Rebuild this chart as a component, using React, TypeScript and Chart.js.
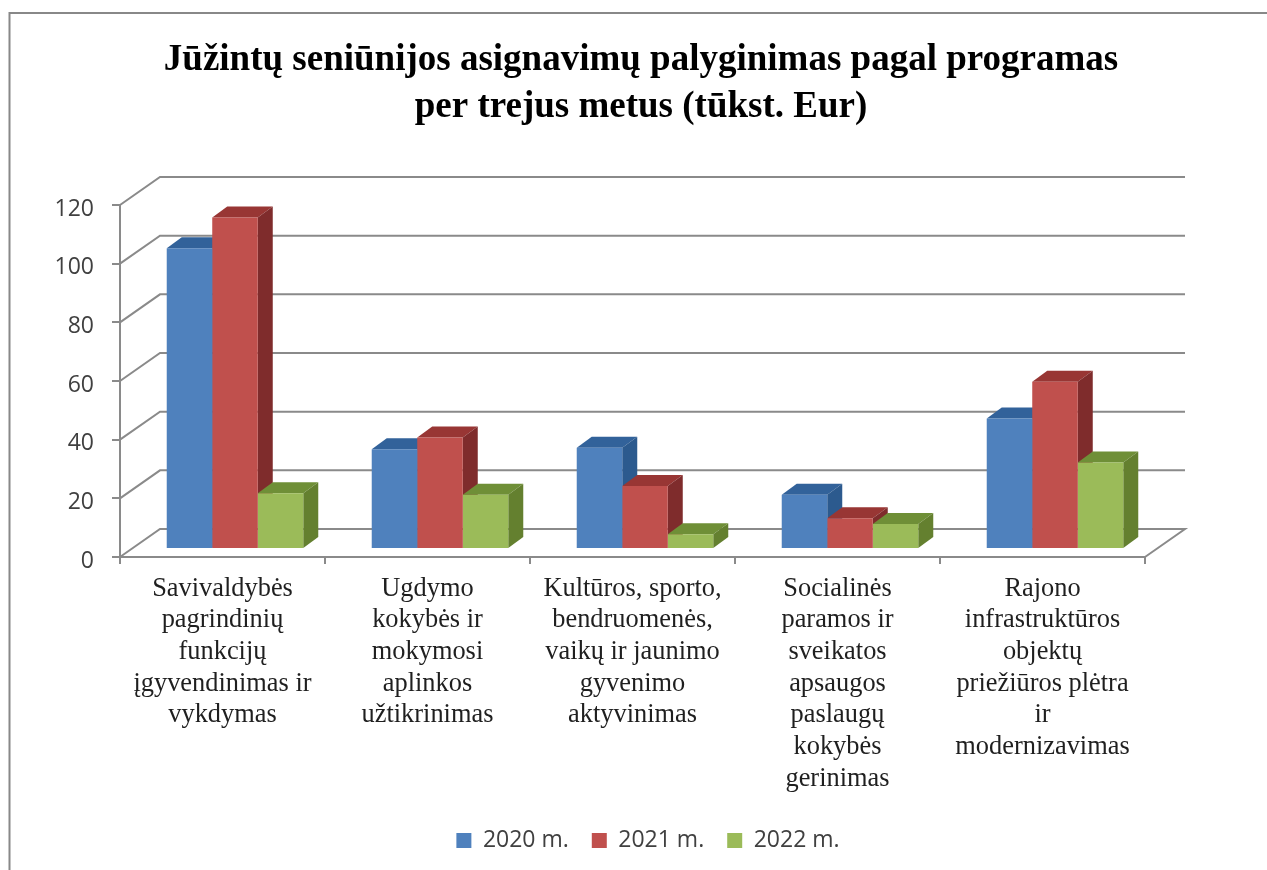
import React, { useEffect, useRef } from "react";
import { Chart, registerables } from "chart.js";

Chart.register(...registerables);

const titleLines = [
  "Jūžintų seniūnijos asignavimų palyginimas pagal programas",
  "per trejus metus (tūkst. Eur)",
];
const categories = [
  ["Savivaldybės", "pagrindinių", "funkcijų", "įgyvendinimas ir", "vykdymas"],
  ["Ugdymo", "kokybės ir", "mokymosi", "aplinkos", "užtikrinimas"],
  ["Kultūros, sporto,", "bendruomenės,", "vaikų ir jaunimo", "gyvenimo", "aktyvinimas"],
  ["Socialinės", "paramos ir", "sveikatos", "apsaugos", "paslaugų", "kokybės", "gerinimas"],
  ["Rajono", "infrastruktūros", "objektų", "priežiūros plėtra", "ir", "modernizavimas"],
];
const values2020 = [102.5, 34, 34.5, 18.5, 44.5];
const values2021 = [113, 38, 21.5, 10.5, 57];
const values2022 = [19, 18.5, 5, 8.5, 29.5];

const FRONT = ["#4F81BD", "#C0504D", "#9BBB59"];
const TOP = ["#32629A", "#983634", "#6F8F37"];
const SIDE = ["#2C5A8E", "#7F2C2C", "#64802F"];
const GRID = "#8A8A8A";
const WALL = { dx: 40, dy: -28 };
const BAR_SHIFT = { dx: 12.5, dy: -8 };
const BAR_DEPTH = { dx: 15, dy: -11 };

const poly = (ctx: CanvasRenderingContext2D, pts: number[][], fill: string) => {
  ctx.beginPath();
  pts.forEach(([x, y], i) => (i ? ctx.lineTo(x, y) : ctx.moveTo(x, y)));
  ctx.closePath();
  ctx.fillStyle = fill;
  ctx.fill();
};

const frame3d = {
  id: "frame3d",
  afterLayout(chart: any) {
    // the title and legend centre on the picture, not on the narrower plot
    chart.titleBlock.left = 0;
    chart.titleBlock.right = 1282;
    chart.legend.left = 0;
    chart.legend.right = 1296;
    const ys = chart.scales.y;
    if (!ys.$nudged) {
      ys.$nudged = true;
      const orig = ys.drawLabels;
      ys.drawLabels = function (...args: any[]) {
        this.ctx.save();
        this.ctx.translate(0, 4);
        orig.apply(this, args);
        this.ctx.restore();
      };
    }
  },
  beforeDraw(chart: any) {
    const { ctx, width, height } = chart;
    ctx.save();
    ctx.strokeStyle = "#888888";
    ctx.lineWidth = 2;
    ctx.beginPath();
    ctx.moveTo(width, 13);
    ctx.lineTo(9.5, 13);
    ctx.lineTo(9.5, height);
    ctx.stroke();
    ctx.restore();
  },
  beforeDatasetsDraw(chart: any) {
    const { ctx, scales } = chart;
    const { x: xs, y: ys } = scales;
    ctx.save();
    ctx.strokeStyle = GRID;
    ctx.lineWidth = 2;
    ys.ticks.forEach((t: any) => {
      const py = ys.getPixelForValue(t.value);
      ctx.beginPath();
      ctx.moveTo(xs.left, py);
      ctx.lineTo(xs.left + WALL.dx, py + WALL.dy);
      ctx.lineTo(xs.right + WALL.dx, py + WALL.dy);
      if (t.value === 0) ctx.lineTo(xs.right, py);
      ctx.stroke();
    });
    ctx.restore();

    ctx.save();
    ctx.translate(BAR_SHIFT.dx, BAR_SHIFT.dy);
    chart.data.datasets.forEach((_: any, di: number) => {
      chart.getDatasetMeta(di).data.forEach((el: any) => {
        const l = el.x - el.width / 2;
        const r = el.x + el.width / 2;
        const { dx, dy } = BAR_DEPTH;
        poly(ctx, [[l, el.y], [l + dx, el.y + dy], [r + dx, el.y + dy], [r, el.y]], TOP[di]);
        poly(ctx, [[r, el.y], [r + dx, el.y + dy], [r + dx, el.base + dy], [r, el.base]], SIDE[di]);
      });
    });
  },
  afterDatasetsDraw(chart: any) {
    chart.ctx.restore();
  },
};

export default function App() {
  const ref = useRef<HTMLCanvasElement | null>(null);
  useEffect(() => {
    const chart = new Chart(ref.current as HTMLCanvasElement, {
      type: "bar",
      data: {
        labels: categories as any,
        datasets: [
          { label: "2020 m.", data: values2020, backgroundColor: FRONT[0] },
          { label: "2021 m.", data: values2021, backgroundColor: FRONT[1] },
          { label: "2022 m.", data: values2022, backgroundColor: FRONT[2] },
        ],
      },
      options: {
        responsive: false,
        animation: false,
        clip: false as any,
        layout: { padding: { left: 0, right: 122, top: 0, bottom: 8 } },
        datasets: { bar: { categoryPercentage: 0.666, barPercentage: 1 } },
        scales: {
          x: {
            afterFit: (s: any) => {
              s.height = 249;
            },
            grid: { drawOnChartArea: false, tickLength: 7, color: GRID, lineWidth: 2 },
            border: { color: GRID, width: 2 },
            ticks: {
              autoSkip: false,
              maxRotation: 0,
              minRotation: 0,
              padding: 9,
              color: "#1f1f1f",
              font: { family: "'Liberation Serif'", size: 26.4, lineHeight: 1.2 },
            },
          },
          y: {
            min: 0,
            max: 120,
            afterFit: (s: any) => {
              s.width = 120;
            },
            grid: { drawOnChartArea: false, tickLength: 8, color: GRID, lineWidth: 2 },
            border: { color: GRID, width: 2 },
            ticks: {
              stepSize: 20,
              padding: 18,
              color: "#404040",
              font: { family: "'Open Sans'", size: 23 },
            },
          },
        },
        plugins: {
          tooltip: { enabled: false },
          title: {
            display: true,
            text: titleLines,
            color: "#000000",
            font: { family: "'Liberation Serif'", size: 37, weight: "bold", lineHeight: 1.27 },
            padding: { top: 37, bottom: 74 },
          },
          legend: {
            display: true,
            position: "bottom",
            labels: {
              boxWidth: 15,
              boxHeight: 15,
              padding: 23,
              color: "#404040",
              font: { family: "'Open Sans'", size: 23 },
            },
          },
        },
      },
      plugins: [frame3d],
    } as any);
    return () => chart.destroy();
  }, []);
  return (
    <div style={{ position: "absolute", left: 0, top: 0, width: 1267, height: 870, background: "#fff" }}>
      <canvas ref={ref} width={1267} height={870} style={{ display: "block" }} />
    </div>
  );
}
